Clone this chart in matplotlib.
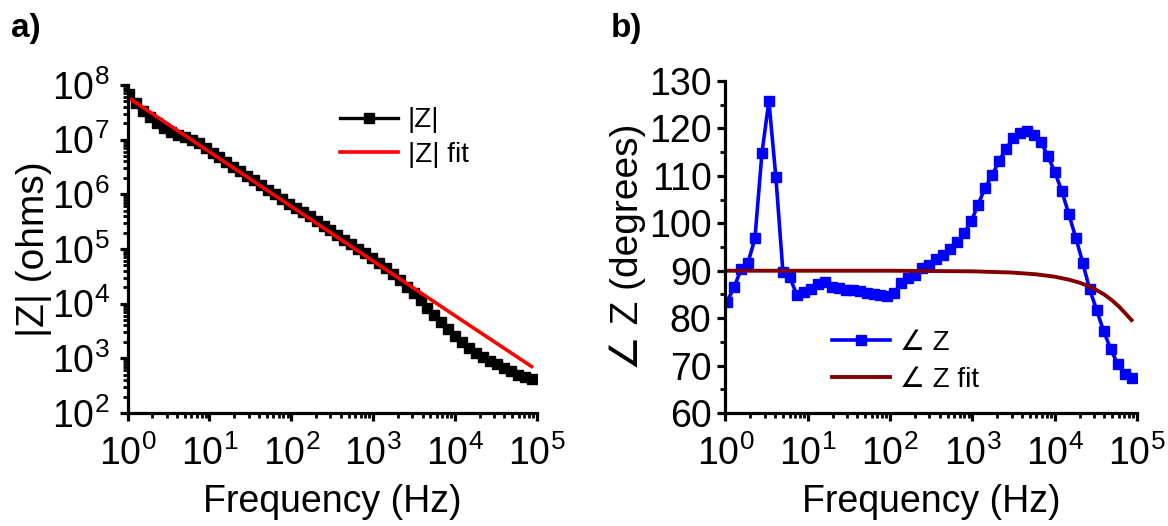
import numpy as np
import matplotlib.pyplot as plt
from matplotlib import ticker

plt.rcParams['font.family'] = ['Liberation Sans', 'DejaVu Sans']
plt.rcParams['mathtext.fontset'] = 'custom'
plt.rcParams['mathtext.rm'] = 'Liberation Sans'
plt.rcParams['mathtext.default'] = 'regular'

# sweep frequencies (Hz)
freq = [1.05, 1.27, 1.55, 1.88, 2.28, 2.78, 3.37, 4.10, 4.99, 6.06,
        7.36, 8.95, 10.9, 13.2, 16.1, 19.5, 23.7, 28.8, 35.1, 42.6,
        51.8, 62.9, 76.4, 92.9, 113, 137, 167, 203, 247, 299,
        364, 443, 537, 653, 794, 966, 1172, 1426, 1733, 2104,
        2559, 3112, 3776, 4592, 5585, 6792, 8241, 10020, 12190, 14790,
        17990, 21880, 26550, 32280, 39260, 47750, 57940, 70470, 85700]

# measured impedance magnitude (ohms)
zmag = [6.9e7, 4.73e7, 3.40e7, 2.55e7, 2.00e7, 1.64e7, 1.39e7, 1.22e7, 1.10e7, 9.7e6,
        8.57e6, 7.05e6, 5.81e6, 4.78e6, 3.93e6, 3.23e6, 2.66e6, 2.19e6, 1.80e6, 1.48e6,
        1.22e6, 1.00e6, 8.26e5, 6.79e5, 5.58e5, 4.81e5, 3.96e5, 3.26e5, 2.68e5, 2.21e5,
        1.82e5, 1.49e5, 1.23e5, 1.01e5, 8.32e4, 6.84e4, 5.64e4, 4.43e4, 3.48e4, 2.67e4,
        2.05e4, 1.57e4, 1.16e4, 8.47e3, 6.21e3, 4.55e3, 3.42e3, 2.56e3, 1.97e3, 1.55e3,
        1.27e3, 1.07e3, 904, 778, 670, 577, 505, 450, 420]

# measured phase (degrees)
zphase = [83.5, 86.5, 90.3, 91.7, 96.8, 114.9, 125.8, 109.7, 89.8, 88.6,
          84.9, 85.5, 86.1, 87.3, 87.7, 86.6, 86.3, 86.0, 85.9, 85.8,
          85.4, 85.0, 84.8, 84.6, 85.4, 87.4, 88.4, 89.1, 90.6, 91.3,
          92.5, 93.4, 94.6, 96.0, 97.9, 100.4, 103.9, 107.5, 110.1, 113.1,
          115.7, 117.9, 119.1, 119.4, 118.7, 117.2, 114.2, 110.8, 106.8, 102.0,
          97.0, 91.7, 86.1, 81.7, 77.3, 73.5, 70.4, 68.3, 67.3]

# fitted curves
fit_freq_mag = [1, 10, 100, 1000, 10000, 85700]
fit_mag = [6.0e7, 6.0e6, 6.0e5, 6.0e4, 6.0e3, 7.1e2]

fit_freq_ph = [1, 100, 1000, 3000, 6000, 10000, 15000, 20000, 25000, 30000,
               40000, 50000, 60000, 70000, 85700]
fit_ph = [90.0, 90.0, 89.87, 89.62, 89.24, 88.74, 88.1, 87.48, 86.85, 86.22,
          84.97, 83.72, 82.48, 81.25, 79.6]

fig = plt.figure(figsize=(11.68, 5.26), dpi=100)
ax1 = fig.add_axes([0.1092, 0.2148, 0.3506, 0.6236])
ax2 = fig.add_axes([0.6211, 0.2148, 0.3524, 0.6312])

ax1.plot(freq, zmag, '-s', color='black', lw=2.4, ms=7, label='|Z|')
ax1.plot(fit_freq_mag, fit_mag, '-', color='#ff0000', lw=2.6, label='|Z| fit')
ax1.set_xscale('log')
ax1.set_yscale('log')
ax1.set_xlim(1, 1e5)
ax1.set_ylim(1e2, 1e8)
ax1.set_ylabel('|Z| (ohms)', fontsize=28, labelpad=0)
ax1.yaxis.set_major_locator(ticker.LogLocator(base=10, numticks=10))
ax1.yaxis.set_minor_locator(ticker.LogLocator(base=10, subs=np.arange(2, 10), numticks=10))
ax1.yaxis.set_minor_formatter(ticker.NullFormatter())
ax1.legend(loc='upper left', bbox_to_anchor=(0.291, 0.796), bbox_transform=fig.transFigure,
           frameon=False, fontsize=20, handlelength=2.1, handletextpad=0.35,
           labelspacing=0.32, borderpad=0, borderaxespad=0)

ax2.plot(freq, zphase, '-s', color='#0000ff', lw=2.6, ms=7.5, label='∠ Z')
ax2.plot(fit_freq_ph, fit_ph, '-', color='#800000', lw=2.8, label='∠ Z fit')
ax2.set_xscale('log')
ax2.set_xlim(1, 1e5)
ax2.set_ylim(60, 130)
ax2.set_yticks(np.arange(60, 131, 10))
ax2.yaxis.set_minor_locator(ticker.MultipleLocator(5))
ax2.set_ylabel('∠ Z (degrees)', fontsize=28, labelpad=2)
ax2.legend(loc='upper left', bbox_to_anchor=(0.712, 0.373), bbox_transform=fig.transFigure,
           frameon=False, fontsize=20, handlelength=2.1, handletextpad=0.35,
           labelspacing=0.4, borderpad=0, borderaxespad=0)

for ax in (ax1, ax2):
    ax.set_xlabel('Frequency (Hz)', fontsize=27, labelpad=8)
    ax.xaxis.set_major_locator(ticker.LogLocator(base=10, numticks=10))
    ax.xaxis.set_minor_locator(ticker.LogLocator(base=10, subs=np.arange(2, 10), numticks=10))
    ax.xaxis.set_minor_formatter(ticker.NullFormatter())
    ax.spines['top'].set_visible(False)
    ax.spines['right'].set_visible(False)
    ax.spines['left'].set_linewidth(2.3)
    ax.spines['bottom'].set_linewidth(2.3)
    ax.tick_params(which='major', direction='out', length=6, width=2.3,
                   labelsize=27, pad=4)
    ax.tick_params(which='minor', direction='out', length=3.5, width=2)
    ax.tick_params(axis='x', which='major', pad=10)

# the lowest decade label on the magnitude axis sits just above 10^0
ax1.tick_params(axis='y', which='major', pad=7)

fig.text(0.009, 0.975, 'a)', fontsize=24, fontweight='bold', va='top')
fig.text(0.523, 0.975, 'b)', fontsize=24, fontweight='bold', va='top')

fig.savefig('out.png', dpi=100)
